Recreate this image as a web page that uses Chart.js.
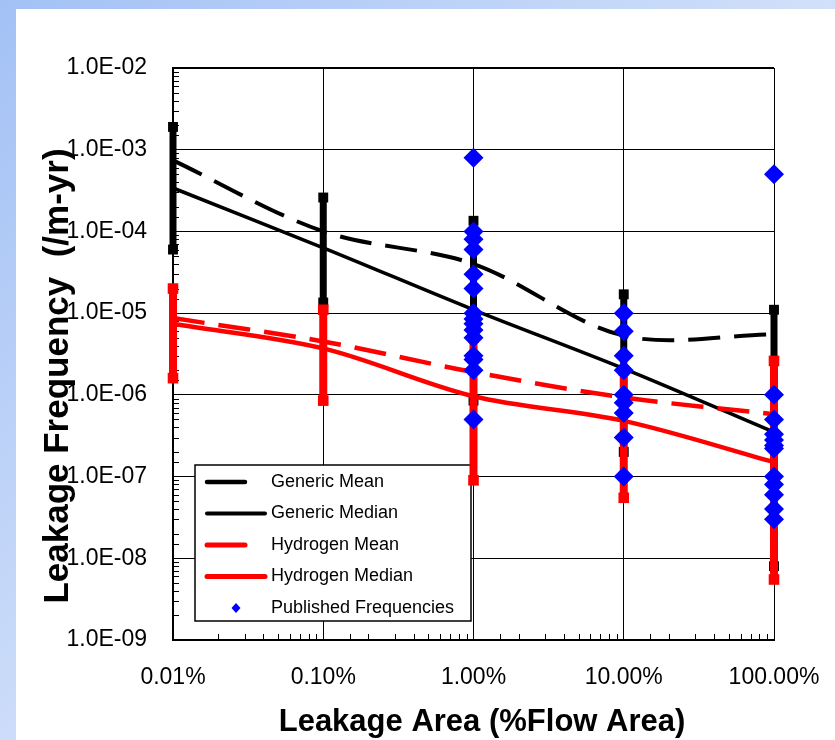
<!DOCTYPE html>
<html>
<head>
<meta charset="utf-8">
<script src="https://cdn.jsdelivr.net/npm/chart.js@4.4.1/dist/chart.umd.min.js"></script>
<style>
  html, body { margin: 0; padding: 0; }
  body { width: 835px; height: 740px; overflow: hidden; position: relative;
         background: linear-gradient(135deg, #a3c1f5 0%, #d3e1fa 55%, #e6edfc 100%); }
  #panel { position: absolute; left: 16px; top: 9px; right: 0; bottom: 0; background: #fff; }
  #chart { position: absolute; left: 0; top: 0; }
</style>
</head>
<body>
<div id="panel"></div>
<canvas id="chart" width="835" height="740"></canvas>
<script>
// --- DATA ---
const areaPct = [0.01, 0.1, 1, 10, 100];
const xTickLabels = ["0.01%", "0.10%", "1.00%", "10.00%", "100.00%"];
const yTickLabels = ["1.0E-09", "1.0E-08", "1.0E-07", "1.0E-06", "1.0E-05", "1.0E-04", "1.0E-03", "1.0E-02"];

const genericMean    = [7.4e-4, 1.0e-4, 4.0e-5, 5.3e-6, 5.5e-6];
const genericMedian  = [3.4e-4, 6.3e-5, 1.1e-5, 2.1e-6, 3.5e-7];
const hydrogenMean   = [8.7e-6, 4.5e-6, 1.9e-6, 9.3e-7, 5.8e-7];
const hydrogenMedian = [7.4e-6, 3.7e-6, 9.6e-7, 4.8e-7, 1.5e-7];

// error bar ranges
const genericLow   = [6.0e-5, 1.35e-5, 8.5e-7, 2.0e-7, 8.0e-9];
const genericHigh  = [1.9e-3, 2.6e-4, 1.35e-4, 1.7e-5, 1.1e-5];
const hydrogenLow  = [1.6e-6, 8.5e-7, 9.0e-8, 5.5e-8, 5.5e-9];
const hydrogenHigh = [2.0e-5, 1.1e-5, 5.0e-6, 2.0e-6, 2.6e-6];

// published frequencies, grouped by leakage area
const pubAt1   = [8e-4, 1e-4, 8e-5, 6e-5, 3e-5, 2e-5, 1e-5, 8.5e-6, 7.4e-6, 6.2e-6, 5e-6, 3e-6, 2.7e-6, 2e-6, 5e-7];
const pubAt10  = [1e-5, 6e-6, 3e-6, 2e-6, 1e-6, 8e-7, 6e-7, 3e-7, 1e-7];
const pubAt100 = [5e-4, 1e-6, 5e-7, 3.3e-7, 2.8e-7, 2.4e-7, 2.2e-7, 1e-7, 8e-8, 6e-8, 4e-8, 3e-8];

const FONT = "'Liberation Sans', Arial, sans-serif";

// --- Helpers ---
function isMajor(v) {
  const l = Math.log10(v);
  return Math.abs(l - Math.round(l)) < 1e-6;
}

function points(ys) {
  return areaPct.map((x, i) => ({ x, y: ys[i] }));
}

function lineSet(label, ys, color, width, dash, order) {
  return {
    label, legendText: label, data: points(ys),
    borderColor: color, borderWidth: width, borderDash: dash,
    pointRadius: 0, tension: 0.33, fill: false, clip: false, order
  };
}

// one vertical dataset per error bar
function barSets(low, high, color, width, cap, order) {
  return areaPct.map((x, i) => ({
    data: [{ x, y: low[i] }, { x, y: high[i] }],
    borderColor: color, backgroundColor: color, borderWidth: width,
    pointStyle: "rect", pointRadius: cap, pointBorderWidth: 0,
    tension: 0, fill: false, clip: false, order
  }));
}

const published = []
  .concat(pubAt1.map(y => ({ x: 1, y })))
  .concat(pubAt10.map(y => ({ x: 10, y })))
  .concat(pubAt100.map(y => ({ x: 100, y })));

// --- PLUGINS ---
const minorTicks = {
  id: "minorTicks",
  beforeDatasetsDraw(chart) {
    const { ctx, chartArea: a, scales: { x, y } } = chart;
    ctx.save();
    ctx.strokeStyle = "#000";
    ctx.lineWidth = 1;
    ctx.beginPath();
    y.ticks.forEach(t => {
      if (isMajor(t.value)) return;
      const py = Math.round(y.getPixelForValue(t.value)) + 0.5;
      ctx.moveTo(a.left, py); ctx.lineTo(a.left + 6, py);
    });
    x.ticks.forEach(t => {
      if (isMajor(t.value)) return;
      const px = Math.round(x.getPixelForValue(t.value)) + 0.5;
      ctx.moveTo(px, a.bottom); ctx.lineTo(px, a.bottom - 6);
    });
    ctx.stroke();
    ctx.restore();
  }
};

// legend box inside the plot, bottom-left
const boxLegend = {
  id: "boxLegend",
  beforeDatasetsDraw(chart) {
    const ctx = chart.ctx;
    const bx = 195, by = 465, bw = 276, bh = 156;
    ctx.save();
    ctx.fillStyle = "#fff";
    ctx.fillRect(bx, by, bw, bh);
    ctx.strokeStyle = "#000";
    ctx.lineWidth = 1.5;
    ctx.strokeRect(bx, by, bw, bh);

    const items = chart.data.datasets.filter(d => d.legendText);
    ctx.font = "18px " + FONT;
    ctx.textBaseline = "middle";
    ctx.textAlign = "left";
    items.forEach((d, i) => {
      const yy = by + 17 + i * 31.5;
      if (d.pointStyle === "rectRot") {
        ctx.fillStyle = d.backgroundColor;
        ctx.beginPath();
        ctx.moveTo(236, yy - 5); ctx.lineTo(240.5, yy); ctx.lineTo(236, yy + 5); ctx.lineTo(231.5, yy);
        ctx.closePath(); ctx.fill();
      } else {
        const len = d.borderDash && d.borderDash.length ? 38 : 58;
        ctx.strokeStyle = d.borderColor;
        ctx.lineWidth = d.borderWidth + 0.5;
        ctx.lineCap = "round";
        ctx.beginPath();
        ctx.moveTo(207, yy); ctx.lineTo(207 + len, yy);
        ctx.stroke();
      }
      ctx.fillStyle = "#000";
      ctx.fillText(d.legendText, 271, yy);
    });
    ctx.restore();
  }
};

const axisTitles = {
  id: "axisTitles",
  afterDraw(chart) {
    const ctx = chart.ctx;
    ctx.save();
    ctx.fillStyle = "#000";
    ctx.textAlign = "center";
    ctx.textBaseline = "alphabetic";
    ctx.font = "bold 31px " + FONT;
    ctx.fillText("Leakage Area (%Flow Area)", 482, 731);
    ctx.translate(68, 376);
    ctx.rotate(-Math.PI / 2);
    ctx.font = "bold 35px " + FONT;
    ctx.fillText("Leakage Frequency  (/m-yr)", 0, 0);
    ctx.restore();
  }
};

// --- CHART ---
const datasets = [
  {
    label: "Published Frequencies", legendText: "Published Frequencies",
    data: published, showLine: false, clip: false,
    pointStyle: "rectRot", pointRadius: 10, pointBorderWidth: 0,
    backgroundColor: "#0000ff", borderColor: "#0000ff", order: 0
  },
  lineSet("Generic Mean", genericMean, "#000", 4, [32, 14], 3),
  lineSet("Generic Median", genericMedian, "#000", 3.5, [], 4),
  lineSet("Hydrogen Mean", hydrogenMean, "#ff0000", 4.5, [32, 14], 1),
  lineSet("Hydrogen Median", hydrogenMedian, "#ff0000", 4.5, [], 2)
]
  .concat(barSets(hydrogenLow, hydrogenHigh, "#ff0000", 8, 7.5, 5))
  .concat(barSets(genericLow, genericHigh, "#000", 7, 7, 6));

// reorder so legend reads in the reference order
const legendOrder = ["Generic Mean", "Generic Median", "Hydrogen Mean", "Hydrogen Median", "Published Frequencies"];
datasets.sort((a, b) => {
  const ia = legendOrder.indexOf(a.legendText), ib = legendOrder.indexOf(b.legendText);
  return (ia < 0 ? 99 : ia) - (ib < 0 ? 99 : ib);
});

new Chart(document.getElementById("chart"), {
  type: "line",
  data: { datasets },
  options: {
    responsive: false,
    animation: false,
    events: [],
    layout: { padding: { left: 0, right: 61, top: 68, bottom: 0 } },
    plugins: { legend: { display: false }, tooltip: { enabled: false } },
    scales: {
      x: {
        type: "logarithmic",
        min: 0.01, max: 100,
        // fixed height, and no extra room for the label overhang
        afterFit: s => { s.height = 100; s.paddingLeft = 0; s.paddingRight = 0; },
        border: { display: true, color: "#000", width: 2 },
        grid: {
          drawTicks: false,
          color: c => (c.tick && isMajor(c.tick.value)) ? "#000" : "rgba(0,0,0,0)",
          lineWidth: 1
        },
        ticks: {
          autoSkip: false, maxRotation: 0, padding: 24,
          color: "#000", font: { family: FONT, size: 23 },
          callback: v => isMajor(v) ? (xTickLabels[Math.round(Math.log10(v)) + 2] || "") : ""
        }
      },
      y: {
        type: "logarithmic",
        min: 1e-9, max: 1e-2,
        afterFit: s => { s.width = 173; s.paddingTop = 0; s.paddingBottom = 0; },
        border: { display: true, color: "#000", width: 2 },
        grid: {
          drawTicks: false,
          color: c => (c.tick && isMajor(c.tick.value)) ? "#000" : "rgba(0,0,0,0)",
          lineWidth: c => (c.tick && isMajor(c.tick.value) && Math.round(Math.log10(c.tick.value)) === -2) ? 2 : 1
        },
        ticks: {
          autoSkip: false, padding: 26,
          color: "#000", font: { family: FONT, size: 23 },
          callback: v => isMajor(v) ? (yTickLabels[Math.round(Math.log10(v)) + 9] || "") : ""
        }
      }
    }
  },
  plugins: [minorTicks, boxLegend, axisTitles]
});
</script>
</body>
</html>
